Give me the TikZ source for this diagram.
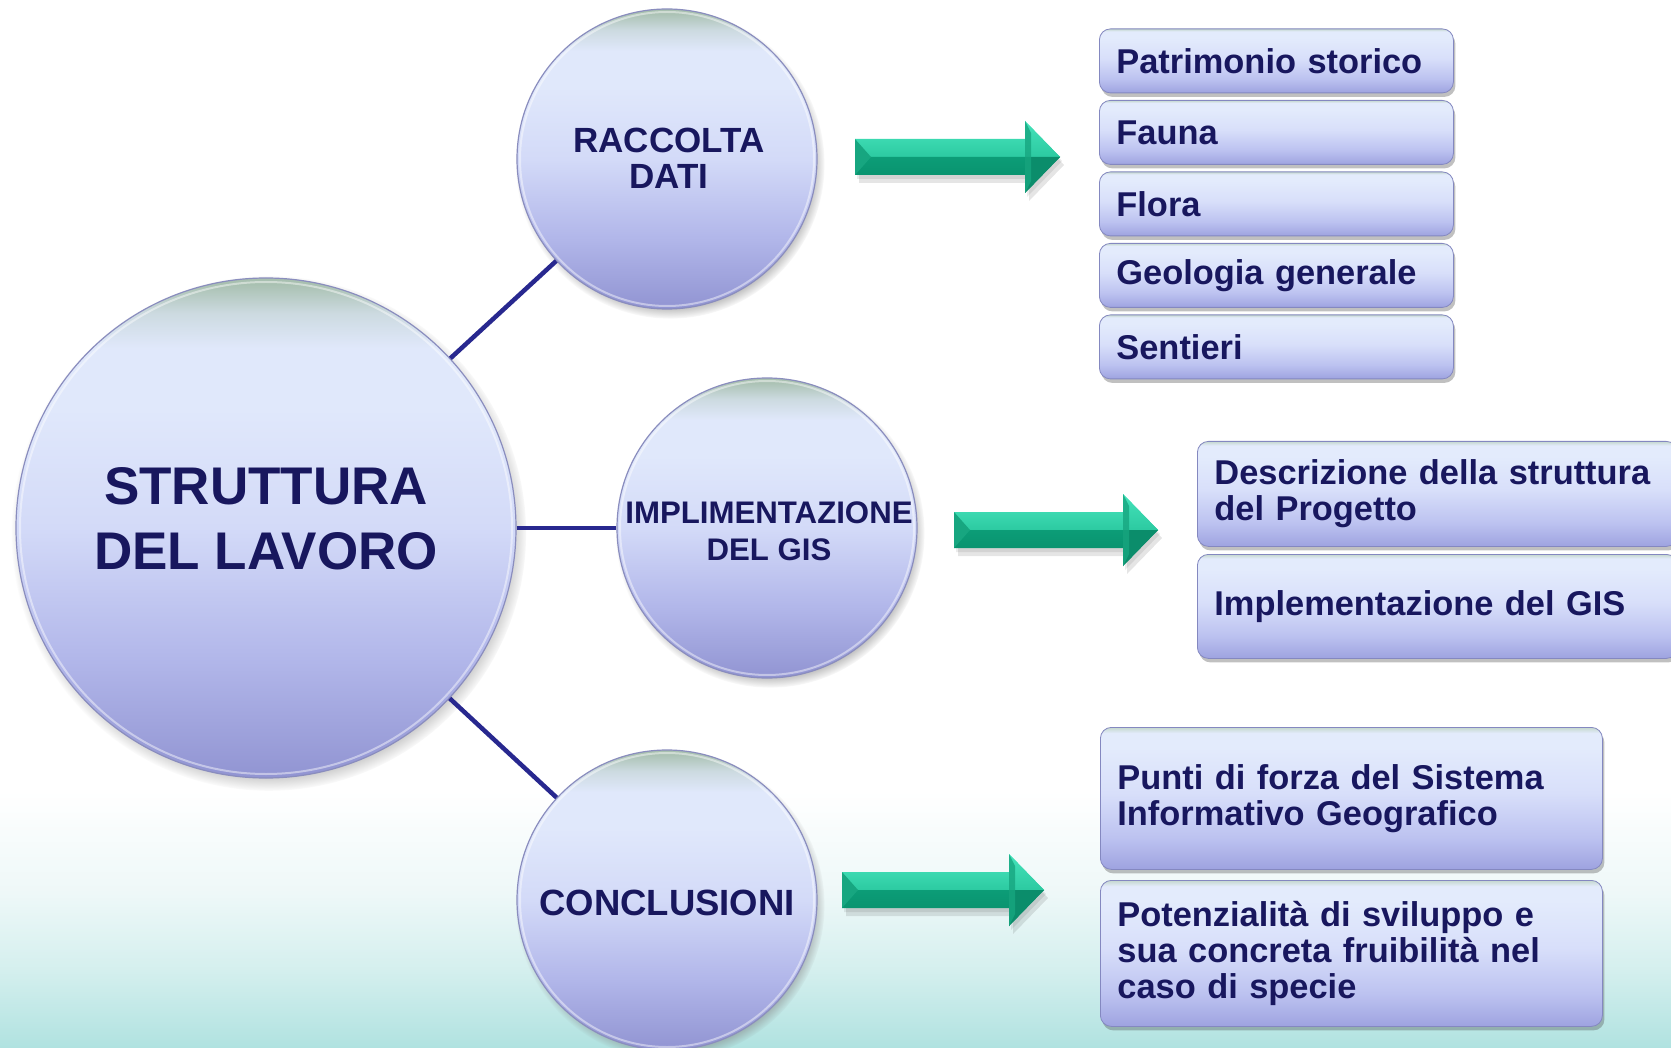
\documentclass[tikz,border=0pt]{standalone}
\usepackage{fontspec}
\setmainfont{Liberation Sans}
\usetikzlibrary{shadows}
\definecolor{navy}{HTML}{18175E}
\definecolor{lineblue}{HTML}{28288F}
\definecolor{ballA}{HTML}{9194D2}
\definecolor{ballB}{HTML}{B2B7EA}
\definecolor{ballC}{HTML}{D3DAF8}
\definecolor{ballD}{HTML}{E0E8FB}
\definecolor{ballE}{HTML}{CCDAE0}
\definecolor{ballF}{HTML}{A8C0B0}
\definecolor{ballEdge}{HTML}{8A8DBE}
\definecolor{boxA}{HTML}{9EA3E0}
\definecolor{boxB}{HTML}{BCC2F0}
\definecolor{boxC}{HTML}{D8DFFA}
\definecolor{boxD}{HTML}{E3EBFC}
\definecolor{boxE}{HTML}{C5D8CE}
\definecolor{boxEdge}{HTML}{8488C0}
\definecolor{bgA}{HTML}{B0E2E0}
\definecolor{bgB}{HTML}{D4EFEE}
\definecolor{bgC}{HTML}{EEF8F8}
\definecolor{arLight}{HTML}{4BE8C0}
\definecolor{arMid}{HTML}{2CCAA1}
\definecolor{arDark}{HTML}{0C9D77}
\definecolor{arDeep}{HTML}{078B68}
\definecolor{arBevel}{HTML}{17A680}
\pgfdeclareverticalshading{ballshade}{100bp}{color(0bp)=(ballA); color(25bp)=(ballA); color(37bp)=(ballB); color(50bp)=(ballC); color(62bp)=(ballD); color(68bp)=(ballD); color(71.5bp)=(ballE); color(74.5bp)=(ballF); color(100bp)=(ballF)}
\pgfdeclareverticalshading{boxshade}{100bp}{color(0bp)=(boxA); color(25bp)=(boxA); color(36bp)=(boxB); color(52bp)=(boxC); color(68bp)=(boxD); color(73bp)=(boxD); color(75bp)=(boxE); color(100bp)=(boxE)}
\pgfdeclareverticalshading{bgshade}{100bp}{color(0bp)=(bgA); color(25bp)=(bgA); color(40bp)=(bgB); color(55bp)=(bgC); color(75bp)=(white); color(100bp)=(white)}
\newcommand\tealarrow[3]{%
  \begin{scope}[shift={(#1,#2)}]
    \fill[black,opacity=.10] (4,-10) -- (#3-31,-10) -- (#3-31,-28) -- (#3+4,8) -- (#3-31,44) -- (#3-31,26) -- (4,26) -- cycle;
    \fill[black,opacity=.08] (2,-14) -- (#3-33,-14) -- (#3-33,-32) -- (#3+2,4) -- (#3-33,40) -- (#3-33,22) -- (2,22) -- cycle;
    \shade[top color=arLight, bottom color=arMid] (0,-18) -- (#3-35,-18) -- (#3-35,-36) -- (#3,0) -- (0,0) -- cycle;
    \shade[top color=arDark, bottom color=arDeep] (0,0) -- (#3,0) -- (#3-35,36) -- (#3-35,18) -- (0,18) -- cycle;
    \shade[top color=arLight!80!arMid, bottom color=arMid] (#3-35,-36) -- (#3,0) -- (#3-35,0) -- cycle;
    \fill[arDark!90!black] (#3-35,0) -- (#3,0) -- (#3-35,36) -- cycle;
    \fill[arBevel,opacity=.8] (#3-35,-36) -- (#3-29,-24) -- (#3-29,24) -- (#3-35,36) -- cycle;
    \fill[arBevel] (0,-18) -- (16,0) -- (0,18) -- cycle;
  \end{scope}}
\begin{document}
\begin{tikzpicture}[x=1pt,y=-1pt,
  ball/.style={circle, inner sep=0pt, shade, shading=ballshade, draw=ballEdge, line width=1.2pt,
    circular drop shadow={shadow xshift=3pt, shadow yshift=-5pt, shadow scale=1.03}},
  balltext/.style={text=navy, align=center, inner sep=0pt},
  box/.style={rectangle, rounded corners=11pt, anchor=north west, shade, shading=boxshade,
    draw=boxEdge, line width=0.8pt, text=navy, align=left, inner xsep=17pt, inner ysep=0pt,
    font=\bfseries\fontsize{34.4}{36}\selectfont,
    drop shadow={shadow xshift=2pt, shadow yshift=-4pt, opacity=0.35, fill=black!70}},
  link/.style={draw=lineblue, line width=4.5pt},
  rim/.style={draw=white, opacity=0.45, line width=2pt},
]
\useasboundingbox (0,0) rectangle (1671,1048);
\clip (0,0) rectangle (1671,1048);
\fill[white] (0,0) rectangle (1671,1048);
\shade[shading=bgshade] (0,790) rectangle (1671,1048);

% circles
\node[ball, minimum size=500pt] (main) at (266,528) {};
\draw[rim] (main.center) circle[radius=246];
\node[balltext, font=\bfseries\fontsize{53}{65}\selectfont] (mainT) at (266,518.5) {STRUTTURA\\DEL LAVORO};
\node[ball, minimum size=300pt] (rac) at (667,159) {};
\draw[rim] (rac.center) circle[radius=147];
\node[balltext, font=\bfseries\fontsize{35}{36}\selectfont] (racT) at (669,158.5) {RACCOLTA\\DATI};
\node[ball, minimum size=300pt] (imp) at (767,528) {};
\draw[rim] (imp.center) circle[radius=147];
\node[balltext, font=\bfseries\fontsize{31.2}{37}\selectfont] (impT) at (769,531) {IMPLIMENTAZIONE\\DEL GIS};
\node[ball, minimum size=300pt] (con) at (667,900) {};
\draw[rim] (con.center) circle[radius=147];
\node[balltext, font=\bfseries\fontsize{36.5}{40}\selectfont] (conT) at (667,903) {CONCLUSIONI};

% connectors
\draw[link] (main) -- (rac);
\draw[link] (main) -- (imp);
\draw[link] (main) -- (con);

% block arrows
\tealarrow{855}{157}{205}
\tealarrow{954}{530}{204}
\tealarrow{842}{890}{202}

% boxes, group 1
\node[box, minimum width=354pt, minimum height=64pt, text width=320pt] (b1) at (1099,28.5) {Patrimonio storico};
\node[box, minimum width=354pt, minimum height=64pt, text width=320pt] (b2) at (1099,100) {Fauna};
\node[box, minimum width=354pt, minimum height=64pt, text width=320pt] (b3) at (1099,171.5) {Flora};
\node[box, minimum width=354pt, minimum height=64pt, text width=320pt] (b4) at (1099,243) {Geologia generale};
\node[box, minimum width=354pt, minimum height=64pt, text width=320pt] (b5) at (1099,314.5) {Sentieri};

% boxes, group 2
\node[box, minimum width=480pt, minimum height=105pt, text width=446pt] (d1) at (1197,441) {Descrizione della struttura\\del Progetto};
\node[box, minimum width=480pt, minimum height=104pt, text width=446pt] (d2) at (1197,554) {Implementazione del GIS};

% boxes, group 3
\node[box, minimum width=502pt, minimum height=142pt, text width=468pt] (p1) at (1100,727) {Punti di forza del Sistema\\Informativo Geografico};
\node[box, minimum width=502pt, minimum height=146pt, text width=468pt] (p2) at (1100,880) {Potenzialità di sviluppo e\\sua concreta fruibilità nel\\caso di specie};
\end{tikzpicture}
\end{document}
